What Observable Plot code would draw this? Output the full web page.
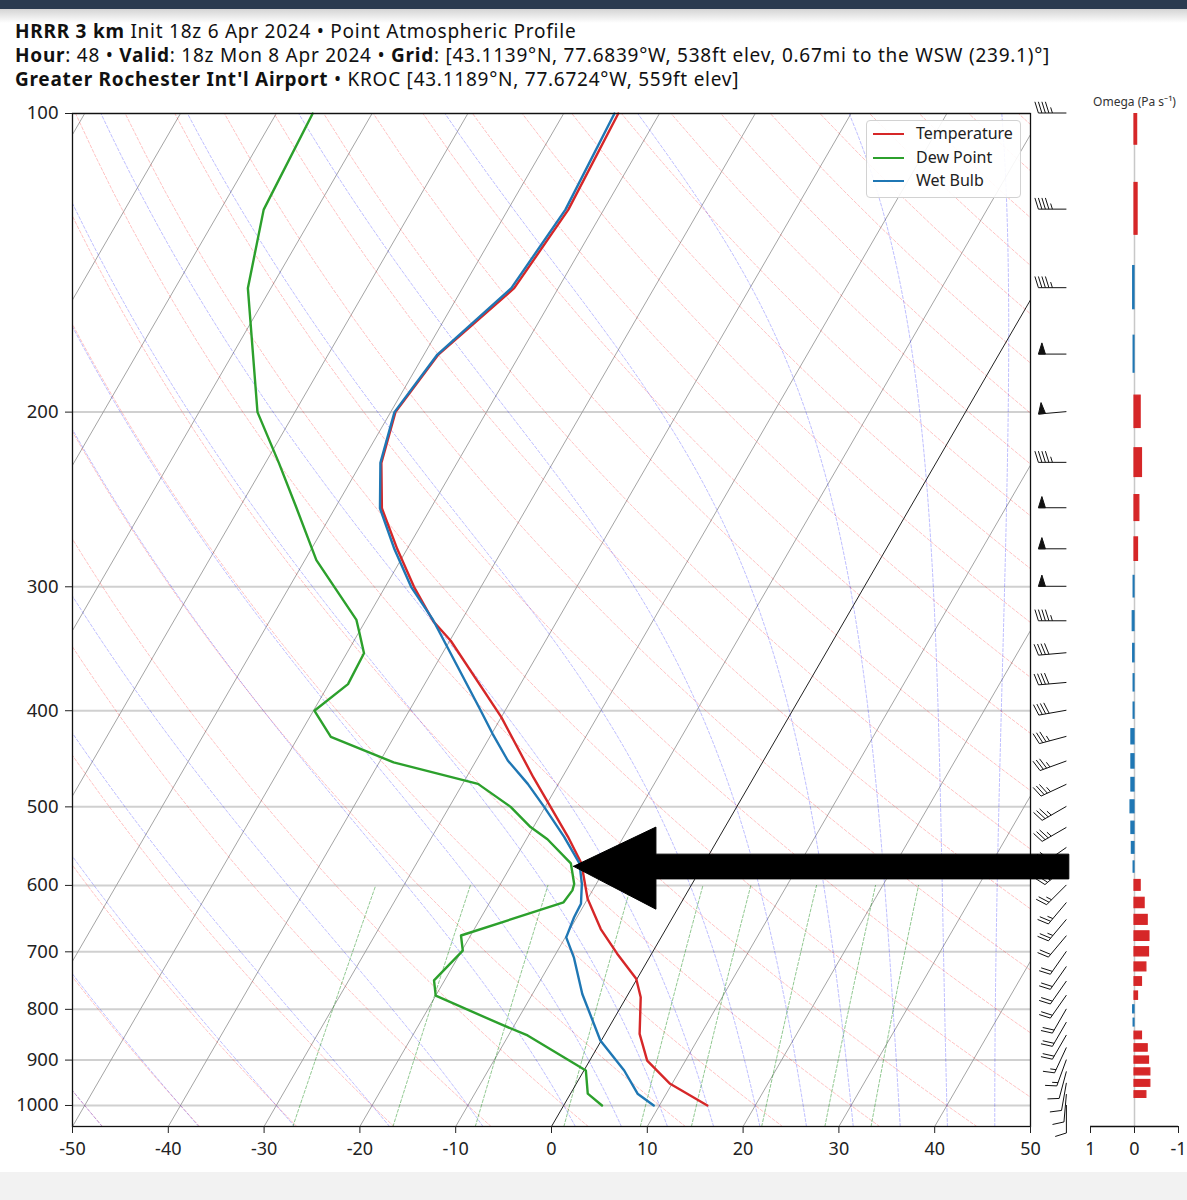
<!DOCTYPE html>
<html><head><meta charset="utf-8">
<script src="https://cdn.jsdelivr.net/npm/d3@7"></script>
<script src="https://cdn.jsdelivr.net/npm/@observablehq/plot@0.6"></script>
<style>
body{margin:0;width:1187px;height:1200px;overflow:hidden;background:#fff;font-family:"Noto Sans",sans-serif;position:relative}
#topbar{position:absolute;left:0;top:0;width:1187px;height:9px;background:#2b3b50}
#shade{position:absolute;left:0;top:9px;width:1187px;height:14px;background:linear-gradient(#d4d4d4,#fff)}
#titles{position:absolute;left:15px;top:19px;font-size:19px;letter-spacing:0.75px;line-height:24px;color:#111;white-space:nowrap}
#main{position:absolute;left:0;top:88px}
#omega{position:absolute;left:1070px;top:88px}
#legend{position:absolute;left:866px;top:120px;width:155px;height:78px;border:1px solid #d2d2d2;border-radius:4px;background:rgba(255,255,255,0.9);box-sizing:border-box;font-size:16px;color:#222}
#legend .sw{position:absolute;left:6px;width:31px;height:2px}
#legend .tx{position:absolute;left:49px;line-height:18px}
#bottombar{position:absolute;left:0;top:1172px;width:1187px;height:28px;background:#f2f2f2}
</style></head>
<body>
<div id="topbar"></div><div id="shade"></div>
<div id="titles">
<div><b>HRRR 3 km</b> Init 18z 6 Apr 2024 • Point Atmospheric Profile</div>
<div><b>Hour</b>: 48 • <b>Valid</b>: 18z Mon 8 Apr 2024 • <b>Grid</b>: [43.1139°N, 77.6839°W, 538ft elev, 0.67mi to the WSW (239.1)°]</div>
<div><b>Greater Rochester Int'l Airport</b> • KROC [43.1189°N, 77.6724°W, 559ft elev]</div>
</div>
<div id="bottombar"></div>
<div id="main"></div>
<div id="omega"></div>
<div id="legend">
<div class="sw" style="top:12px;background:#d62728"></div><div class="tx" style="top:3px">Temperature</div>
<div class="sw" style="top:36px;background:#2ca02c"></div><div class="tx" style="top:27px">Dew Point</div>
<div class="sw" style="top:59px;background:#1f77b4"></div><div class="tx" style="top:50px">Wet Bulb</div>
</div>
<script>
// ---------------- data ----------------
const isobarTicks = [100, 200, 300, 400, 500, 600, 700, 800, 900, 1000];
const tempTicks = [-50, -40, -30, -20, -10, 0, 10, 20, 30, 40, 50];
const omegaTicks = [1, 0, -1];

const tempP = [100,125,150,175,200,225,250,275,300,325,340,406,467,536,570,619,664,703,745,778,847,901,951,1000];
const tempC = [-54.3,-53.7,-54.6,-58.5,-59.5,-57.9,-55.1,-51.0,-47.0,-42.9,-39.9,-30.0,-23.0,-15.8,-12.8,-10.0,-6.8,-3.6,-0.1,1.5,3.6,6.0,9.8,15.0];

const dewP = [100,125,150,200,225,250,282,324,333,350,376,400,425,451,474,500,524,539,570,598,607,624,674,698,748,775,828,850,922,973,1000];
const dewC = [-86.2,-85.5,-82.4,-73.9,-68.6,-64.0,-58.8,-51.0,-50.0,-48.2,-48.0,-49.9,-46.6,-38.5,-28.4,-23.6,-20.3,-17.8,-13.9,-12.3,-12.1,-12.3,-21.0,-19.9,-21.1,-20.0,-11.5,-8.0,0.2,1.8,4.0];

const wbP = [100,125,150,175,200,225,250,275,300,324,397,422,449,474,500,536,570,598,626,646,677,709,772,860,922,973,1000];
const wbC = [-54.7,-54.0,-54.9,-58.6,-59.6,-58.0,-55.3,-51.3,-47.3,-43.0,-32.9,-29.9,-26.7,-23.2,-20.1,-16.2,-13.0,-11.5,-10.4,-10.3,-9.9,-7.9,-4.8,-0.1,4.2,7.0,9.4];

const windP   = [100,125,150,175,200,225,250,275,300,325,350,375,400,425,450,475,500,525,550,575,600,625,650,675,700,725,750,775,800,825,850,875,900,925,950,975,1000];
const windDir = [270,270,270,270,265,270,270,270,270,270,265,265,260,255,250,245,240,240,235,230,225,220,220,220,215,215,215,215,210,210,210,205,200,195,190,185,180];
const windSpd = [45,45,45,50,50,45,50,50,50,45,40,40,40,35,35,35,35,35,30,30,25,25,25,20,20,20,20,20,20,20,20,15,15,10,10,10,10];

const omegaP   = [100,125,150,175,200,225,250,275,300,325,350,375,400,425,450,475,500,525,550,575,600,625,650,675,700,725,750,775,800,825,850,875,900,925,950,975];
const omegaVal = [-0.06,-0.07,0.03,0.02,-0.14,-0.17,-0.11,-0.08,0.02,0.04,0.03,0.02,0.02,0.07,0.07,0.07,0.09,0.07,0.06,0.02,-0.14,-0.23,-0.30,-0.34,-0.33,-0.27,-0.17,-0.08,0.03,0.02,-0.17,-0.30,-0.33,-0.36,-0.36,-0.27];

// annotation arrow (skewed-x units, hPa)
const arrowX = [2.3, 10.9, 10.9, 54.0, 54.0, 10.9, 10.9, 2.3];
const arrowP = [574, 524, 558, 558, 591, 591, 634, 574];

const mixRatios = [0.0004, 0.001, 0.002, 0.004, 0.007, 0.01, 0.016, 0.024, 0.032];

// ---------------- skew-T helpers ----------------
const P_BOT = 1050, P_TOP = 100, SKEW = 60;
const sx = (t, p) => t + SKEW * Math.log10(P_BOT / p);
const prof = (P, C) => P.map((p, i) => ({p, x: sx(C[i], p)}));
const temp = prof(tempP, tempC), dew = prof(dewP, dewC), wb = prof(wbP, wbC);

const isoRows = [];
for (let t = -120; t <= 50; t += 10) if (t !== 0) for (const p of [P_BOT, P_TOP]) isoRows.push({t, p, x: sx(t, p)});
const zeroRows = [P_BOT, P_TOP].map(p => ({p, x: sx(0, p)}));

const pUp = d3.range(1050, 99, -10);
const dryRows = [];
for (let t0 = -50; t0 <= 250; t0 += 10) for (const p of pUp) {
  const T = (t0 + 273.15) * Math.pow(p / 1000, 0.2857) - 273.15;
  dryRows.push({t0, p, x: sx(T, p)});
}

function dTdp(p, T) {
  const Rd = 287.04, Cp = 1005.7, Lv = 2.501e6, eps = 0.622;
  const Tc = T - 273.15;
  const es = 6.112 * Math.exp(17.67 * Tc / (Tc + 243.5));
  const rs = eps * es / Math.max(p - es, 1);
  return (Rd * T + Lv * rs) / (Cp + Lv * Lv * rs * eps / (Rd * T * T)) / p;
}
function integrate(T, p0, p1) {
  const h = p1 - p0;
  const k1 = dTdp(p0, T), k2 = dTdp(p0 + h/2, T + h/2*k1), k3 = dTdp(p0 + h/2, T + h/2*k2), k4 = dTdp(p1, T + h*k3);
  return T + h/6*(k1 + 2*k2 + 2*k3 + k4);
}
const moistT0 = [-50,-40,-30,-20,-10,0,5,10,15,20,25,30,35,40,45,50];
const moistRows = [];
for (const t0 of moistT0) {
  const pts = [];
  let T = t0 + 273.15;
  pts.push({p: 1000, T});
  for (let p = 1000; p > 100; p -= 5) { T = integrate(T, p, p - 5); pts.push({p: p - 5, T}); }
  T = t0 + 273.15;
  for (let p = 1000; p < 1050; p += 5) { T = integrate(T, p, p + 5); pts.unshift({p: p + 5, T}); }
  for (const d of pts) moistRows.push({t0, p: d.p, x: sx(d.T - 273.15, d.p)});
}

const mixRows = [];
for (const w of mixRatios) for (const p of d3.range(1050, 599, -10)) {
  const e = p * w / (0.622 + w);
  const l = Math.log(e / 6.112);
  const Td = 243.5 * l / (17.67 - l);
  mixRows.push({w, p, x: sx(Td, p)});
}

const winds = windP.map((p, i) => ({p, dir: windDir[i], spd: windSpd[i]}));
const omega = omegaP.map((p, i) => ({p, w: omegaVal[i]}));
const arrowRows = arrowX.map((x, i) => ({x, p: arrowP[i]}));
const BARB_X = 53.8;

function renderBarbs(index, scales, values) {
  const g = d3.create("svg:g").attr("fill", "none").attr("stroke", "#111").attr("stroke-width", 1);
  const L = 28, H = 0.4 * L, W = 0.25 * L, SP = 0.125 * L;
  for (const i of index) {
    const x0 = values.x[i], y0 = values.y[i];
    const a = winds[i].dir * Math.PI / 180;
    const dx = Math.sin(a), dy = -Math.cos(a);
    const nx = -dy, ny = dx;
    const at = s => [x0 + dx * s, y0 + dy * s];
    let path = `M${x0},${y0}L${at(L)}`;
    const s = Math.round(winds[i].spd / 5) * 5;
    let flags = Math.floor(s / 50), rem = s % 50, full = Math.floor(rem / 10), half = rem % 10 >= 5;
    let pos = L;
    for (let k = 0; k < flags; k++) {
      if (pos !== L) pos -= SP / 2;
      const p1 = at(pos), p3 = at(pos - W), pc = at(pos - W / 2);
      g.append("path").attr("d", `M${p1}L${pc[0] + nx * H},${pc[1] + ny * H}L${p3}Z`).attr("fill", "#111");
      pos -= W + SP;
    }
    for (let k = 0; k < full; k++) {
      const p1 = at(pos), pe = at(pos + W / 2);
      path += `M${p1}L${pe[0] + nx * H},${pe[1] + ny * H}`;
      pos -= SP;
    }
    if (half) {
      if (pos === L) pos -= 1.5 * SP;
      const p1 = at(pos), pe = at(pos + W / 4);
      path += `M${p1}L${pe[0] + nx * H / 2},${pe[1] + ny * H / 2}`;
    }
    g.append("path").attr("d", path);
  }
  return g.node();
}

const lineStyle = {strokeWidth: 0.8, clip: true};
const main = Plot.plot({
  width: 1187, height: 1088,
  marginLeft: 72, marginRight: 157, marginTop: 25, marginBottom: 50,
  style: "font-family:'Noto Sans',sans-serif;background:transparent;overflow:visible;color:#222",
  x: {domain: [-50, 50], label: null},
  y: {type: "log", domain: [P_BOT, P_TOP], label: null},
  marks: [
    Plot.ruleY(isobarTicks, {stroke: "#d0d0d0", strokeWidth: 2}),
    Plot.line(isoRows, {x: "x", y: "p", z: "t", stroke: "#9a9a9a", strokeWidth: 0.9, clip: true}),
    Plot.line(dryRows, {x: "x", y: "p", z: "t0", stroke: "#ff0000", strokeOpacity: 0.3, strokeDasharray: "3,2", ...lineStyle}),
    Plot.line(moistRows, {x: "x", y: "p", z: "t0", stroke: "#0000ff", strokeOpacity: 0.32, strokeDasharray: "3,2", ...lineStyle}),
    Plot.line(mixRows, {x: "x", y: "p", z: "w", stroke: "#008000", strokeOpacity: 0.55, strokeDasharray: "3,2", ...lineStyle}),
    Plot.line(zeroRows, {x: "x", y: "p", stroke: "#222", strokeWidth: 1, clip: true}),
    Plot.line(temp, {x: "x", y: "p", stroke: "#d62728", strokeWidth: 2.4}),
    Plot.line(dew, {x: "x", y: "p", stroke: "#2ca02c", strokeWidth: 2.4}),
    Plot.line(wb, {x: "x", y: "p", stroke: "#1f77b4", strokeWidth: 2.4}),
    Plot.frame({stroke: "#111", strokeWidth: 1.3}),
    Plot.axisX({ticks: tempTicks, tickFormat: d => String(d), tickSize: 7, tickPadding: 9, fontSize: 18, label: null}),
    Plot.axisY({ticks: isobarTicks, tickFormat: d => String(d), tickSize: 7, tickPadding: 7, fontSize: 18.5, label: null}),
    Plot.dot(winds, {x: () => BARB_X, y: "p", render: renderBarbs}),
    Plot.line(arrowRows, {x: "x", y: "p", fill: "#000", stroke: "#000", strokeWidth: 1})
  ]
});
document.getElementById("main").append(main);

const om = Plot.plot({
  width: 117, height: 1088,
  marginLeft: 20, marginRight: 9, marginTop: 25, marginBottom: 50,
  style: "font-family:'Noto Sans',sans-serif;background:transparent;overflow:visible;color:#222",
  x: {domain: [1, -1], label: null},
  y: {type: "log", domain: [P_BOT, P_TOP], label: null, axis: null},
  marks: [
    Plot.ruleX([0], {stroke: "#c8c8c8", strokeWidth: 1.5}),
    Plot.rect(omega, {x1: () => 0, x2: "w", y1: d => d.p - 7.5, y2: d => d.p + 7.5, clip: true,
      fill: d => d.w < 0 ? "#d62728" : "#1f77b4", stroke: d => d.w < 0 ? "#d62728" : "#1f77b4", strokeWidth: 1.2}),
    Plot.ruleY([P_BOT], {stroke: "#111", strokeWidth: 1.3}),
    Plot.axisX({ticks: omegaTicks, tickFormat: d => String(d), tickSize: 7, tickPadding: 9, fontSize: 18, label: null}),
    Plot.text(["Omega (Pa s⁻¹)"], {frameAnchor: "top", dy: -16, fontSize: 12, fill: "#333"})
  ]
});
document.getElementById("omega").append(om);
</script>
</body></html>
